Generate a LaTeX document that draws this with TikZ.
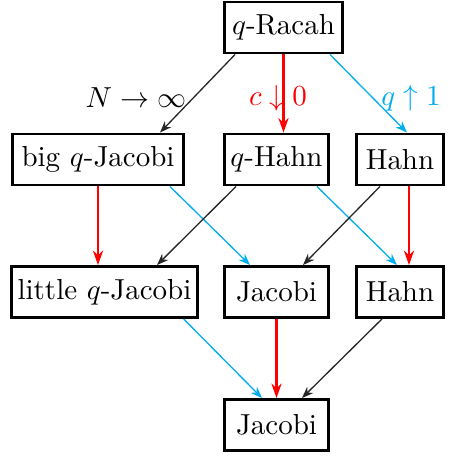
\documentclass[tikz,border=0pt]{standalone}
\usepackage{xcolor}
\usetikzlibrary{calc,arrows.meta}

\definecolor{qcyan}{RGB}{0,174,239}

\begin{document}
\begin{tikzpicture}[x=0.345pt, y=-0.345pt,
    every node/.style={inner sep=2pt},
    box/.style={draw, line width=1pt, minimum height=17.6pt},
    lim/.style={-{Stealth[length=4pt,width=3pt]}, black!85, line width=0.45pt},
    qlim/.style={-{Stealth[length=4pt,width=3pt]}, qcyan, line width=0.45pt},
    clim/.style={-{Stealth[length=5pt,width=3.5pt]}, red, line width=0.8pt}]
    \useasboundingbox (0,0) rectangle (454,457);
    % the scheme
    \node (racah) [box, minimum width=40.7pt] at (283.5,27.5) {$q$-Racah};
    \node (bigqj) [box, minimum width=59pt] at (98,159.5) {big $q$-Jacobi};
    \node (qhahn) [box, minimum width=35.9pt] at (276.5,159.5) {$q$-Hahn};
    \node (hahnA) [box, minimum width=30pt] at (400,159.5) {Hahn};
    \node (litqj) [box, minimum width=63.5pt] at (104.5,292) {little $q$-Jacobi};
    \node (jacA) [box, minimum width=35.9pt] at (276.5,292) {Jacobi};
    \node (hahnB) [box, minimum width=30pt] at (400,292) {Hahn};
    \node (jacB) [box, minimum width=35.9pt] at (276.5,425) {Jacobi};
    % limits
    \node (Nlim) at (136,98) {$N\to\infty$};
    \node (clab) [red] at (278,98) {$c\downarrow 0$};
    \node (qlab) [qcyan] at (411,98) {$q\uparrow 1$};
    \coordinate (hAs) at ($(hahnA.south)+(9,0)$);

    \draw[lim] ($(racah.south west)+(12,0)$) -- ($(bigqj.north)+(62,0)$);
    \draw[clim] (racah.south) -- (racah.south |- qhahn.north);
    \draw[qlim] ($(racah.south east)+(-14,0)$) -- ($(hahnA.north)+(7,0)$);

    \draw[clim] (bigqj.south) -- (bigqj.south |- litqj.north);
    \draw[qlim] ($(bigqj.south east)+(-15,0)$) -- ($(jacA.north west)+(27,0)$);
    \draw[lim] ($(qhahn.south west)+(13,0)$) -- ($(litqj.north)+(52.5,0)$);
    \draw[qlim] ($(qhahn.south east)+(-13,0)$) -- ($(hahnB.north)+(-3,0)$);
    \draw[lim] ($(hahnA.south)+(-20,0)$) -- ($(jacA.north)+(26.5,0)$);
    \draw[clim] (hAs) -- (hAs |- hahnB.north);

    \draw[qlim] ($(litqj.south east)+(-15,0)$) -- ($(jacB.north)+(-14.5,0)$);
    \draw[clim] (jacA.south) -- (jacB.north);
    \draw[lim] ($(hahnB.south)+(-18,0)$) -- ($(jacB.north)+(25.5,0)$);
\end{tikzpicture}
\end{document}
